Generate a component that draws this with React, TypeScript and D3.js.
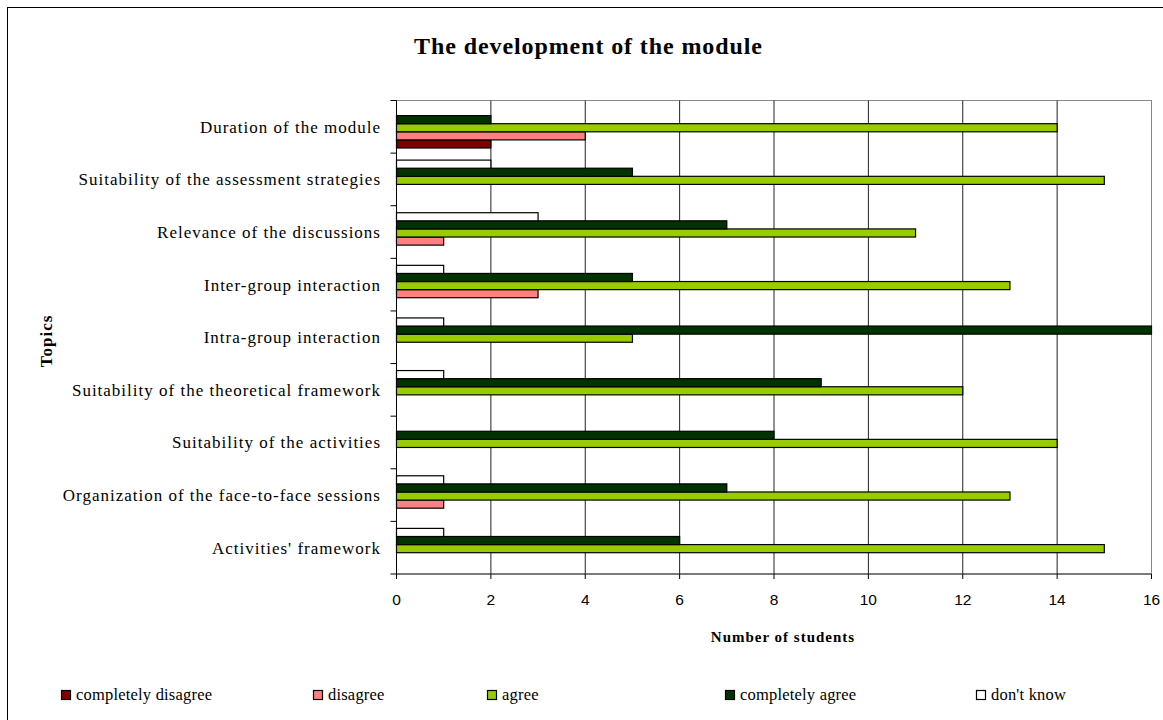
import React from "react";
import * as d3 from "d3";

// Survey topics, top to bottom
const topics = [
  "Duration of the module",
  "Suitability of the assessment strategies",
  "Relevance of the discussions",
  "Inter-group interaction",
  "Intra-group interaction",
  "Suitability of the theoretical framework",
  "Suitability of the activities",
  "Organization of the face-to-face sessions",
  "Activities' framework",
];

// Answer counts per topic, in the same order as topics
const completelyDisagree = [2, 0, 0, 0, 0, 0, 0, 0, 0];
const disagree = [4, 0, 1, 3, 0, 0, 0, 1, 0];
const agree = [14, 15, 11, 13, 5, 12, 14, 13, 15];
const completelyAgree = [2, 5, 7, 5, 16, 9, 8, 7, 6];
const dontKnow = [0, 2, 3, 1, 1, 1, 0, 1, 1];

const seriesNames = ["completely disagree", "disagree", "agree", "completely agree", "don't know"];
const seriesColors = ["#800000", "#FF8080", "#99CC00", "#003300", "#FFFFFF"];
const seriesValues = [completelyDisagree, disagree, agree, completelyAgree, dontKnow];

const xTicks = [0, 2, 4, 6, 8, 10, 12, 14, 16];

const W = 1163;
const H = 720;
const plot = { left: 396.5, right: 1151.5, top: 100.5, bottom: 574 };

const SERIF = "'Liberation Serif', 'Times New Roman', serif";
const SANS = "'Liberation Sans', Arial, sans-serif";

export default function App() {
  const x = d3.scaleLinear().domain([0, 16]).range([plot.left, plot.right]);
  const y0 = d3.scaleBand<string>().domain(topics).range([plot.top, plot.bottom]).padding(0);
  // within a topic band the last series sits on top
  const barOrder = [...seriesNames].reverse();
  const barH = 8.1;
  const y1 = d3
    .scaleBand<string>()
    .domain(barOrder)
    .range([7, 7 + barH * barOrder.length])
    .padding(0);

  const boundaries = d3.range(topics.length + 1).map((i) => plot.top + i * y0.step());

  const legendX = [62, 314, 488, 726, 977];

  return (
    <svg
      width={W}
      height={H}
      style={{ position: "absolute", left: 0, top: 0, background: "#fff" }}
      xmlns="http://www.w3.org/2000/svg"
    >
      <rect x={0} y={0} width={W} height={H} fill="#fff" />
      {/* outer chart frame */}
      <rect x={7.5} y={7.5} width={1300} height={900} fill="none" stroke="#000" strokeWidth={1} />

      <text
        x={588.5}
        y={54}
        textAnchor="middle"
        fontFamily={SERIF}
        fontWeight="bold"
        fontSize={24}
        letterSpacing={0.9}
      >
        The development of the module
      </text>

      {/* plot area border */}
      <rect
        x={plot.left}
        y={plot.top}
        width={plot.right - plot.left}
        height={plot.bottom - plot.top}
        fill="none"
        stroke="#888"
        strokeWidth={1}
      />

      {/* vertical gridlines */}
      {xTicks.slice(1, -1).map((t) => (
        <line
          key={"g" + t}
          x1={x(t)}
          x2={x(t)}
          y1={plot.top}
          y2={plot.bottom}
          stroke="#222"
          strokeWidth={1}
        />
      ))}

      {/* bars */}
      {topics.map((topic, ti) =>
        seriesNames.map((name, si) => {
          const v = seriesValues[si][ti];
          if (!v) return null;
          const yy = (y0(topic) as number) + (y1(name) as number);
          return (
            <rect
              key={topic + name}
              x={x(0)}
              y={yy}
              width={x(v) - x(0)}
              height={barH}
              fill={seriesColors[si]}
              stroke="#000"
              strokeWidth={1.2}
            />
          );
        })
      )}

      {/* category axis */}
      <line x1={plot.left} x2={plot.left} y1={plot.top} y2={plot.bottom} stroke="#000" strokeWidth={1} />
      {boundaries.map((b, i) => (
        <line key={"yt" + i} x1={plot.left - 6} x2={plot.left} y1={b} y2={b} stroke="#000" strokeWidth={1} />
      ))}
      {topics.map((topic) => (
        <text
          key={"l" + topic}
          x={381}
          y={(y0(topic) as number) + y0.bandwidth() / 2}
          dy="0.35em"
          textAnchor="end"
          fontFamily={SERIF}
          fontSize={17}
          letterSpacing={1}
        >
          {topic}
        </text>
      ))}

      {/* value axis */}
      <line x1={plot.left} x2={plot.right} y1={plot.bottom} y2={plot.bottom} stroke="#333" strokeWidth={1.2} />
      {xTicks.map((t) => (
        <g key={"xt" + t}>
          <line x1={x(t)} x2={x(t)} y1={plot.bottom} y2={plot.bottom + 5} stroke="#000" strokeWidth={1} />
          <text x={x(t)} y={605} textAnchor="middle" fontFamily={SANS} fontSize={15.5}>
            {t}
          </text>
        </g>
      ))}

      <text
        x={783}
        y={642}
        textAnchor="middle"
        fontFamily={SERIF}
        fontWeight="bold"
        fontSize={15}
        letterSpacing={1}
      >
        Number of students
      </text>
      <text
        transform={`translate(52,341) rotate(-90)`}
        textAnchor="middle"
        fontFamily={SERIF}
        fontWeight="bold"
        fontSize={17}
        letterSpacing={1}
      >
        Topics
      </text>

      {/* legend */}
      {seriesNames.map((name, i) => (
        <g key={"lg" + name}>
          <rect x={legendX[i] - 0.5} y={690.5} width={9} height={9} fill={seriesColors[i]} stroke="#000" strokeWidth={1.2} />
          <text x={legendX[i] + 14} y={700} fontFamily={SERIF} fontSize={16.5} letterSpacing={0.2}>
            {name}
          </text>
        </g>
      ))}
    </svg>
  );
}
